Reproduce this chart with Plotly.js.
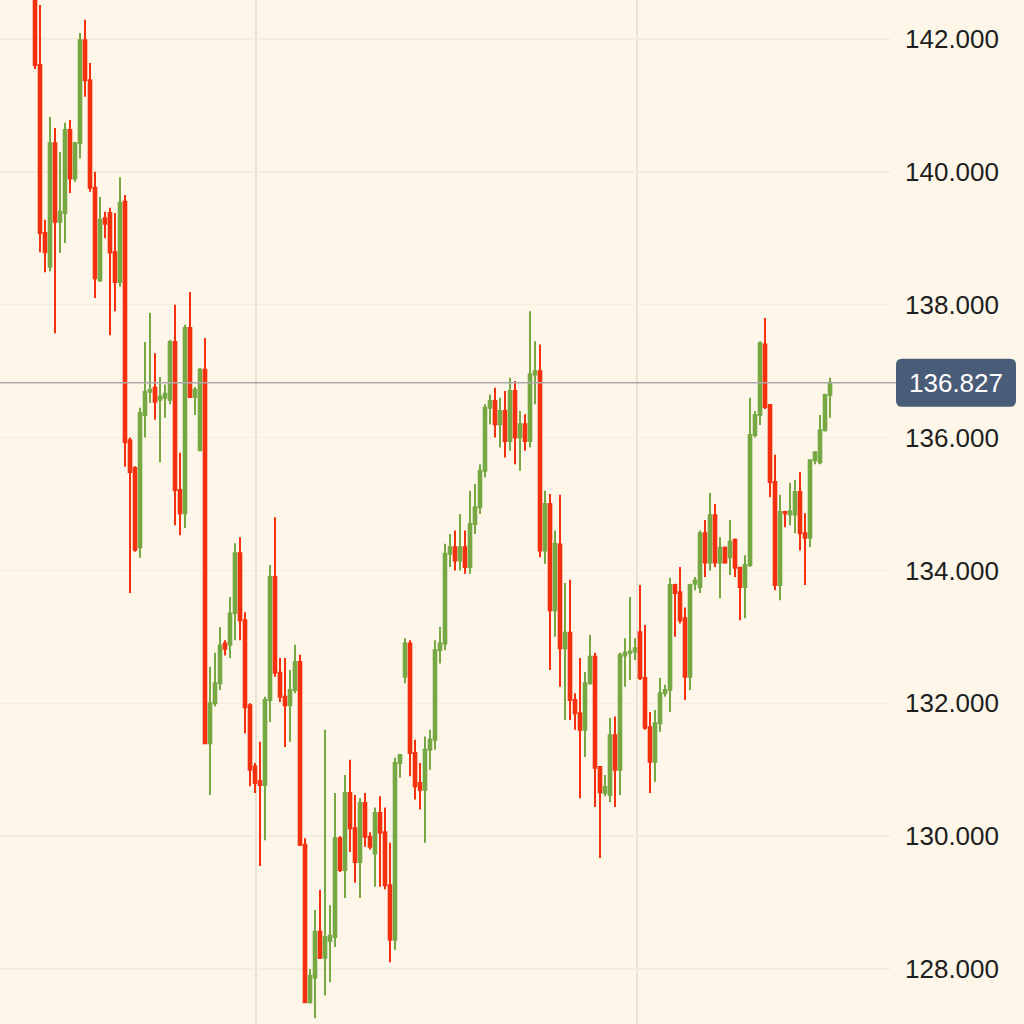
<!DOCTYPE html>
<html><head><meta charset="utf-8">
<script src="https://cdn.plot.ly/plotly-3.0.1.min.js"></script>
<style>html,body{margin:0;padding:0;background:#fdf6e9;}#chart{width:1024px;height:1024px;}</style>
</head><body><div id="chart"></div>
<script>
const openP = [142.9,141.61,139.08,138.57,140.43,139.25,139.38,140.63,139.9,140.43,141.98,141.38,139.76,138.37,139.3,139.38,138.79,138.34,139.55,135.96,
135.54,134.35,136.34,136.69,136.75,136.57,136.6,136.57,137.44,135.21,134.86,137.65,136.61,135.81,137.02,131.4,132.0,132.3,132.9,132.88,
133.36,134.26,133.25,131.97,131.05,130.83,130.77,132.05,133.9,132.46,132.1,131.97,132.2,132.62,129.87,127.5,127.87,128.56,128.17,128.42,
128.48,129.97,129.49,130.65,130.12,129.61,130.5,129.99,129.74,130.35,130.06,129.26,128.44,131.1,132.4,132.9,131.25,130.8,130.7,131.3,
131.45,132.8,132.9,134.25,134.35,134.15,134.35,134.05,134.7,134.95,135.5,136.45,136.55,136.2,136.4,135.95,136.7,136.0,136.2,135.95,
136.95,137.0,134.3,135.0,133.4,134.39,132.83,133.06,132.05,131.85,131.6,132.3,132.7,131.04,130.65,130.62,131.52,131.0,132.72,132.76,
132.78,133.07,132.38,131.64,131.12,131.7,132.15,132.2,133.78,133.67,133.28,132.4,133.8,133.75,134.56,134.12,134.83,134.12,134.34,134.2,
134.46,134.04,133.75,134.08,136.04,136.34,137.4,136.49,135.33,133.78,134.88,134.84,134.84,135.18,134.56,134.49,135.66,135.63,136.11,136.64];
const highP = [143.1,142.51,139.28,140.83,140.66,140.3,140.74,140.78,140.45,142.09,142.29,141.64,140.0,139.62,139.4,139.46,139.38,139.92,139.65,136.0,
135.57,136.45,137.44,137.88,137.27,136.91,136.8,137.47,138.0,135.77,137.7,138.19,136.76,137.05,137.5,132.55,132.76,133.15,132.95,133.6,
134.41,134.5,133.37,132.0,131.1,131.42,132.1,134.08,134.8,132.68,132.68,132.5,132.88,132.73,129.97,128.0,128.89,129.19,131.6,128.96,
130.65,130.0,130.92,131.15,130.62,130.57,130.65,130.06,130.43,130.6,130.43,129.9,131.18,131.22,132.98,132.95,131.45,131.1,131.5,131.6,
132.95,133.15,134.4,134.55,134.6,134.85,134.6,135.2,135.3,135.6,136.5,136.65,136.75,136.6,136.7,136.9,136.85,136.4,136.35,137.9,
137.45,137.4,135.2,135.15,134.6,135.14,133.81,133.86,132.15,132.68,132.47,133.03,132.76,131.05,130.92,131.78,131.8,132.76,132.98,133.6,
132.98,133.78,133.18,131.87,131.9,132.38,132.28,133.89,133.8,134.05,133.44,133.8,133.9,134.6,134.76,135.17,135.0,134.5,134.36,134.76,
134.48,134.05,134.23,136.6,136.4,137.45,137.8,136.5,135.74,135.14,134.9,135.32,135.36,135.48,134.86,135.66,135.78,136.34,136.66,136.9];
const lowP = [141.55,138.79,138.49,138.5,137.57,138.78,138.93,139.68,139.85,140.2,141.13,139.7,138.1,138.34,139.0,137.54,137.9,138.27,135.56,133.66,
134.28,134.19,136.0,136.52,136.27,135.63,136.3,136.5,134.68,134.53,134.64,136.6,136.34,135.8,131.4,130.62,131.95,132.2,132.72,132.68,
132.95,132.95,131.55,130.75,130.65,129.55,129.94,131.72,132.4,132.02,131.34,131.42,132.15,129.85,127.49,127.48,127.26,128.15,127.6,127.8,
128.33,129.46,129.07,129.76,129.3,129.07,129.84,129.8,129.24,129.24,129.2,128.1,128.29,130.88,132.3,130.9,130.55,130.4,129.9,131.0,
131.3,132.6,132.8,134.05,134.0,134.0,133.95,133.95,134.55,134.85,135.4,136.2,136.0,135.85,135.7,135.8,135.6,135.5,135.8,135.85,
136.5,134.2,134.1,132.5,133.0,132.25,131.75,131.75,131.6,130.57,131.19,132.28,130.44,129.67,130.6,130.51,130.44,130.62,132.25,132.35,
132.65,132.35,131.6,130.65,130.82,131.57,132.1,131.87,133.0,133.2,132.05,132.2,133.7,133.66,133.9,134.0,134.05,133.58,134.1,133.93,
133.9,133.25,133.28,134.05,136.0,136.19,136.43,135.1,133.7,133.55,134.65,134.68,134.56,134.3,133.78,134.35,135.6,135.6,136.09,136.3];
const closeP = [141.61,139.08,138.79,140.43,139.25,139.4,140.63,139.9,140.43,141.98,141.38,139.76,138.4,139.28,139.22,138.79,138.34,139.53,135.93,135.48,
134.31,136.37,136.69,136.72,136.54,136.62,136.66,137.44,135.21,134.86,137.65,136.61,136.72,137.02,131.4,132.0,132.3,132.87,132.82,133.35,
134.26,133.25,131.94,131.0,130.8,130.77,132.05,133.9,132.46,132.1,131.97,132.2,132.62,129.87,127.5,127.9,128.56,128.17,128.48,128.5,
129.97,129.49,130.65,130.12,129.61,130.5,129.99,129.84,130.35,130.05,129.26,128.44,131.1,131.22,132.9,131.25,130.75,130.7,131.3,131.45,
132.8,132.9,134.25,134.35,134.15,134.35,134.05,134.7,134.95,135.5,136.45,136.55,136.2,136.4,135.95,136.7,136.0,136.2,135.95,136.95,
137.0,134.3,135.0,133.4,134.4,132.83,133.06,132.05,131.85,131.6,132.3,132.7,131.03,130.66,130.74,131.52,131.0,132.73,132.76,132.78,
132.83,132.38,131.63,131.12,131.7,132.15,132.2,133.78,133.66,133.25,132.4,133.78,133.85,134.56,134.12,134.83,134.12,134.34,134.12,134.43,
134.04,133.75,134.08,136.04,136.34,137.42,136.46,135.33,133.78,134.88,134.86,134.89,135.18,134.56,134.49,135.66,135.78,136.11,136.64,136.827];
const yTicks = [128,130,132,134,136,138,140,142];
const xGridPos = [44.2, 120.4];
const lastPrice = 136.827;
const lastLabel = '136.827';

const idx = openP.map((_, i) => i);
const trace = {
  type: 'candlestick', x: idx, open: openP, high: highP, low: lowP, close: closeP,
  increasing: {line: {color: '#76a844', width: 2}, fillcolor: '#76a844'},
  decreasing: {line: {color: '#f4300e', width: 2}, fillcolor: '#f4300e'},
  hoverinfo: 'none'
};
const layout = {
  width: 1024, height: 1024,
  margin: {l: 0, r: 134, t: 0, b: 0},
  paper_bgcolor: '#fdf6e9', plot_bgcolor: '#fdf6e9',
  showlegend: false, boxgap: 0.25,
  xaxis: {range: [-7, 171], tickvals: xGridPos, showticklabels: false, showgrid: true,
          gridcolor: '#e8e2d7', gridwidth: 1.5, zeroline: false, rangeslider: {visible: false}, fixedrange: true},
  yaxis: {side: 'right', range: [127.172, 142.587], tickvals: yTicks, tickformat: '.3f',
          showgrid: true, gridcolor: '#f4ecdd', gridwidth: 1.5, zeroline: false, ticks: '',
          ticklabelstandoff: 14,
          tickfont: {family: 'Liberation Sans, Arial, sans-serif', size: 26, color: '#1e1e1e'}},
  shapes: [
    {type: 'line', xref: 'paper', x0: 0, x1: 1.01, yref: 'y', y0: lastPrice, y1: lastPrice,
     line: {color: '#a9a9a9', width: 1.5}, layer: 'above'},
    {type: 'path', xref: 'paper', yref: 'y', xsizemode: 'pixel', ysizemode: 'pixel', xanchor: 1, yanchor: lastPrice,
     path: 'M 12,-24 L 120,-24 Q 126,-24 126,-18 L 126,18 Q 126,24 120,24 L 12,24 Q 6,24 6,18 L 6,-18 Q 6,-24 12,-24 Z',
     fillcolor: '#4a5d78', line: {width: 0}, layer: 'above'}
  ],
  annotations: [
    {xref: 'paper', yref: 'y', x: 1, y: lastPrice, xshift: 66, text: lastLabel, showarrow: false,
     xanchor: 'center', yanchor: 'middle', font: {family: 'Liberation Sans, Arial, sans-serif', size: 26, color: '#ffffff'}}
  ]
};
Plotly.newPlot('chart', [trace], layout, {displayModeBar: false, staticPlot: true});
</script></body></html>
